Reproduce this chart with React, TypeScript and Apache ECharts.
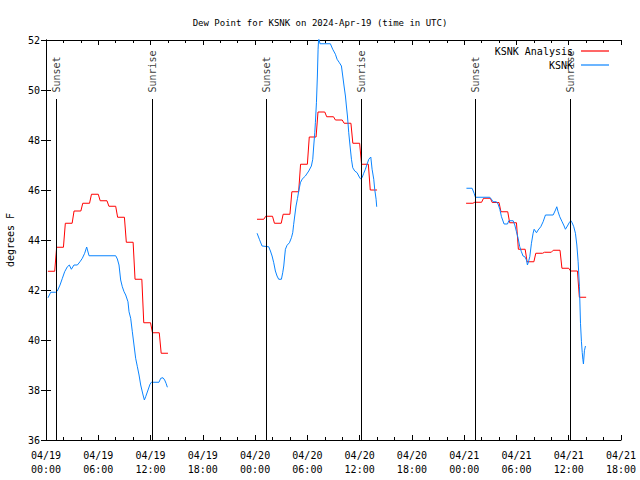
import React, { useEffect, useRef } from "react";
import * as echarts from "echarts";

// x values are hours since 2024-04-19 00:00 UTC
const dateLabels = ["04/19", "04/20", "04/21"];
const hourLabels = ["00:00", "06:00", "12:00", "18:00"];
const yTicks = [36, 38, 40, 42, 44, 46, 48, 50, 52];

// KSNK Analysis: hourly values (each segment starts at the given hour)
const analysisStarts = [0, 24, 48];
const analysisSeg1 = [42.75, 43.71, 44.67, 45.16, 45.47, 45.83, 45.57, 45.35, 44.91, 43.91, 42.43, 40.69, 40.29, 39.47];
const analysisSeg2 = [44.83, 44.95, 44.67, 45.03, 45.93, 47.03, 48.12, 49.12, 48.93, 48.8, 48.67, 47.87, 47.03, 46.0];
const analysisSeg3 = [45.47, 45.51, 45.67, 45.5, 45.13, 44.69, 43.63, 43.13, 43.47, 43.51, 43.59, 42.87, 42.76, 41.71];

// KSNK observations [hour, dew point F]
const obsSeg1 = [
  [0.23, 41.69], [0.54, 41.91], [1.11, 41.91], [1.3, 41.96], [1.61, 42.2], [1.88, 42.47], [2.14, 42.73], [2.45, 42.93],
  [2.68, 43.0], [2.91, 42.83], [3.21, 43.0], [3.6, 43.0], [3.9, 43.13], [4.17, 43.27], [4.44, 43.47], [4.67, 43.72],
  [4.94, 43.37], [8.0, 43.37], [8.19, 43.24], [8.38, 43.0], [8.57, 42.4], [8.76, 42.13], [8.96, 41.93], [9.15, 41.8],
  [9.41, 41.53], [9.53, 41.13], [9.72, 40.87], [9.91, 40.33], [10.1, 39.8], [10.29, 39.27], [10.49, 38.93], [10.68, 38.6],
  [10.87, 38.2], [11.14, 37.8], [11.29, 37.6], [11.44, 37.73], [11.71, 38.0], [11.94, 38.23], [12.09, 38.31], [12.97, 38.31],
  [13.17, 38.47], [13.43, 38.49], [13.62, 38.4], [13.78, 38.27], [13.93, 38.11],
];
const obsSeg2 = [
  [24.23, 44.27], [24.49, 44.03], [24.8, 43.76], [25.56, 43.73], [25.76, 43.56], [25.95, 43.36], [26.14, 43.09], [26.33, 42.76],
  [26.52, 42.56], [26.71, 42.43], [27.02, 42.43], [27.17, 42.69], [27.29, 42.96], [27.4, 43.36], [27.48, 43.63], [27.67, 43.79],
  [27.94, 43.89], [28.17, 44.09], [28.32, 44.29], [28.43, 44.63], [28.55, 44.96], [28.7, 45.36], [28.86, 45.65], [29.01, 45.96],
  [29.2, 46.29], [29.39, 46.43], [29.77, 46.56], [30.16, 46.76], [30.46, 46.96], [30.62, 47.23], [30.73, 47.76], [30.85, 48.29],
  [30.92, 48.69], [31.04, 49.49], [31.15, 50.56], [31.23, 51.63], [31.3, 52.1], [31.45, 51.85], [32.64, 51.85], [32.91, 51.63],
  [33.22, 51.43], [33.41, 51.23], [33.68, 51.09], [33.91, 50.96], [34.06, 50.56], [34.21, 50.16], [34.37, 49.76], [34.48, 49.36],
  [34.6, 48.96], [34.75, 48.29], [34.9, 47.76], [35.06, 47.23], [35.21, 46.89], [35.44, 46.76], [35.71, 46.69], [35.9, 46.56],
  [36.09, 46.45], [36.28, 46.49], [36.47, 46.67], [36.66, 46.83], [36.85, 47.03], [37.05, 47.23], [37.28, 47.32], [37.43, 46.83],
  [37.62, 46.43], [37.73, 46.03], [37.89, 45.63], [37.96, 45.33],
];
const obsSeg3 = [
  [48.26, 46.07], [48.91, 46.07], [49.14, 45.87], [49.29, 45.71], [50.94, 45.71], [51.13, 45.63], [51.32, 45.53], [51.7, 45.53],
  [51.89, 45.44], [52.09, 45.23], [52.28, 44.93], [52.58, 44.64], [52.97, 44.64], [53.12, 44.77], [53.62, 44.77], [53.81, 44.6],
  [54.0, 44.33], [54.19, 44.07], [54.38, 43.73], [54.57, 43.53], [54.76, 43.36], [54.96, 43.33], [55.15, 43.2], [55.26, 43.0],
  [55.41, 43.17], [55.53, 43.33], [55.72, 43.87], [55.91, 44.27], [56.03, 44.43], [56.3, 44.29], [56.49, 44.4], [56.79, 44.53],
  [57.06, 44.73], [57.33, 45.0], [58.21, 45.0], [58.48, 45.2], [58.63, 45.33], [58.78, 45.13], [58.97, 44.93], [59.24, 44.73],
  [59.47, 44.56], [59.62, 44.43], [59.85, 44.56], [60.05, 44.69], [60.24, 44.77], [60.39, 44.69], [60.58, 44.53], [60.77, 44.27],
  [60.93, 43.8], [61.08, 43.13], [61.23, 42.13], [61.35, 40.67], [61.46, 39.93], [61.55, 39.5], [61.62, 39.23], [61.69, 39.04],
  [61.8, 39.57], [61.92, 39.76],
];

const sunsetHours = [1.2, 25.3, 49.3];
const sunriseHours = [12.2, 36.2, 60.2];
const sunLineTop = 49.64;

const FONT = "DejaVu Sans Mono";

export default function App() {
  const ref = useRef<HTMLDivElement>(null);

  useEffect(() => {
    document.body.style.margin = "0";
    if (!ref.current) return;
    const chart = echarts.init(ref.current, undefined, { renderer: "svg" });

    const buildAnalysis = () => {
      const segs = [analysisSeg1, analysisSeg2, analysisSeg3];
      const out: any[] = [];
      segs.forEach((seg, si) => {
        const s = analysisStarts[si];
        seg.forEach((v, k) => {
          out.push([s + k + 0.22, v]);
          out.push([s + k + 1.0, v]);
        });
        out.push([s + seg.length + 2, "-"]);
      });
      return out;
    };
    const buildObs = () => {
      const out: any[] = [];
      [obsSeg1, obsSeg2, obsSeg3].forEach((seg) => {
        seg.forEach((p) => out.push(p));
        out.push([seg[seg.length - 1][0] + 2, "-"]);
      });
      return out;
    };

    const sunEvents = [
      ...sunsetHours.map((t) => ({ value: [t, sunLineTop], name: "Sunset" })),
      ...sunriseHours.map((t) => ({ value: [t, sunLineTop], name: "Sunrise" })),
    ];

    const axisLineStyle = { color: "#000", width: 1 };
    const option: any = {
      animation: false,
      backgroundColor: "#fff",
      title: {
        text: "Dew Point for KSNK on 2024-Apr-19 (time in UTC)",
        left: "center",
        top: 13,
        textStyle: { fontFamily: FONT, fontSize: 9, fontWeight: "normal", color: "#000" },
      },
      legend: {
        data: ["KSNK Analysis", "KSNK"],
        orient: "vertical",
        right: 26,
        top: 41,
        align: "right",
        icon: "rect",
        itemWidth: 28,
        itemHeight: 1.2,
        itemGap: 4,
        textStyle: { fontFamily: FONT, fontSize: 10, color: "#000", padding: [0, 3, 0, 0] },
      },
      grid: { left: 46, right: 19, top: 40, bottom: 40, containLabel: false, outerBoundsMode: "none" },
      xAxis: [
        {
          type: "value",
          min: 0,
          max: 66,
          interval: 6,
          position: "bottom",
          axisLine: { show: true, lineStyle: axisLineStyle },
          axisTick: { show: true, inside: true, length: 5, lineStyle: axisLineStyle },
          minorTick: { show: true, splitNumber: 3, length: 3, lineStyle: axisLineStyle },
          splitLine: { show: false },
          axisLabel: {
            fontFamily: FONT,
            fontSize: 10,
            color: "#000",
            margin: 8,
            lineHeight: 14,
            showMinLabel: true,
            showMaxLabel: true,
            hideOverlap: false,
            formatter: (v: number) => {
              const idx = Math.round(v / 6);
              return dateLabels[Math.floor(idx / 4)] + "\n" + hourLabels[idx % 4];
            },
          },
        },
        {
          type: "value",
          min: 0,
          max: 66,
          interval: 6,
          position: "top",
          axisLine: { show: true, lineStyle: axisLineStyle },
          axisTick: { show: true, inside: true, length: 5, lineStyle: axisLineStyle },
          minorTick: { show: true, splitNumber: 3, length: 3, lineStyle: axisLineStyle },
          splitLine: { show: false },
          axisLabel: { show: false },
        },
      ],
      yAxis: [
        {
          type: "value",
          min: yTicks[0],
          max: yTicks[yTicks.length - 1],
          interval: 2,
          position: "left",
          name: "degrees F",
          nameLocation: "middle",
          nameGap: 31,
          nameRotate: 90,
          nameTextStyle: { fontFamily: FONT, fontSize: 10, color: "#000" },
          axisLine: { show: true, lineStyle: axisLineStyle },
          axisTick: { show: true, inside: true, length: 5, lineStyle: axisLineStyle },
          splitLine: { show: false },
          axisLabel: { fontFamily: FONT, fontSize: 10, color: "#000", margin: 6 },
        },
        {
          type: "value",
          min: yTicks[0],
          max: yTicks[yTicks.length - 1],
          interval: 2,
          position: "right",
          axisLine: { show: true, lineStyle: axisLineStyle },
          axisTick: { show: true, inside: true, length: 5, lineStyle: axisLineStyle },
          splitLine: { show: false },
          axisLabel: { show: false },
        },
      ],
      series: [
        {
          name: "sunlines",
          type: "line",
          data: [],
          silent: true,
          markLine: {
            silent: true,
            symbol: "none",
            label: { show: false },
            lineStyle: { color: "#000", width: 1, type: "solid" },
            data: [...sunsetHours, ...sunriseHours].map((t) => [
              { coord: [t, yTicks[0]] },
              { coord: [t, sunLineTop] },
            ]),
          },
        },
        {
          name: "sunlabels",
          type: "scatter",
          symbolSize: 1,
          itemStyle: { color: "transparent" },
          silent: true,
          data: sunEvents,
          label: {
            show: true,
            formatter: "{b}",
            position: "top",
            distance: 6,
            rotate: 90,
            align: "left",
            verticalAlign: "middle",
            fontFamily: FONT,
            fontSize: 10,
            color: "#000",
          },
        },
        {
          name: "KSNK Analysis",
          type: "line",
          data: buildAnalysis(),
          showSymbol: false,
          symbol: "none",
          connectNulls: false,
          lineStyle: { color: "#ff0000", width: 1 },
          itemStyle: { color: "#ff0000" },
        },
        {
          name: "KSNK",
          type: "line",
          data: buildObs(),
          showSymbol: false,
          symbol: "none",
          connectNulls: false,
          lineStyle: { color: "#0a84ff", width: 1 },
          itemStyle: { color: "#0a84ff" },
        },
      ],
    };
    chart.setOption(option);
    return () => chart.dispose();
  }, []);

  return <div ref={ref} style={{ width: 640, height: 480 }} />;
}
